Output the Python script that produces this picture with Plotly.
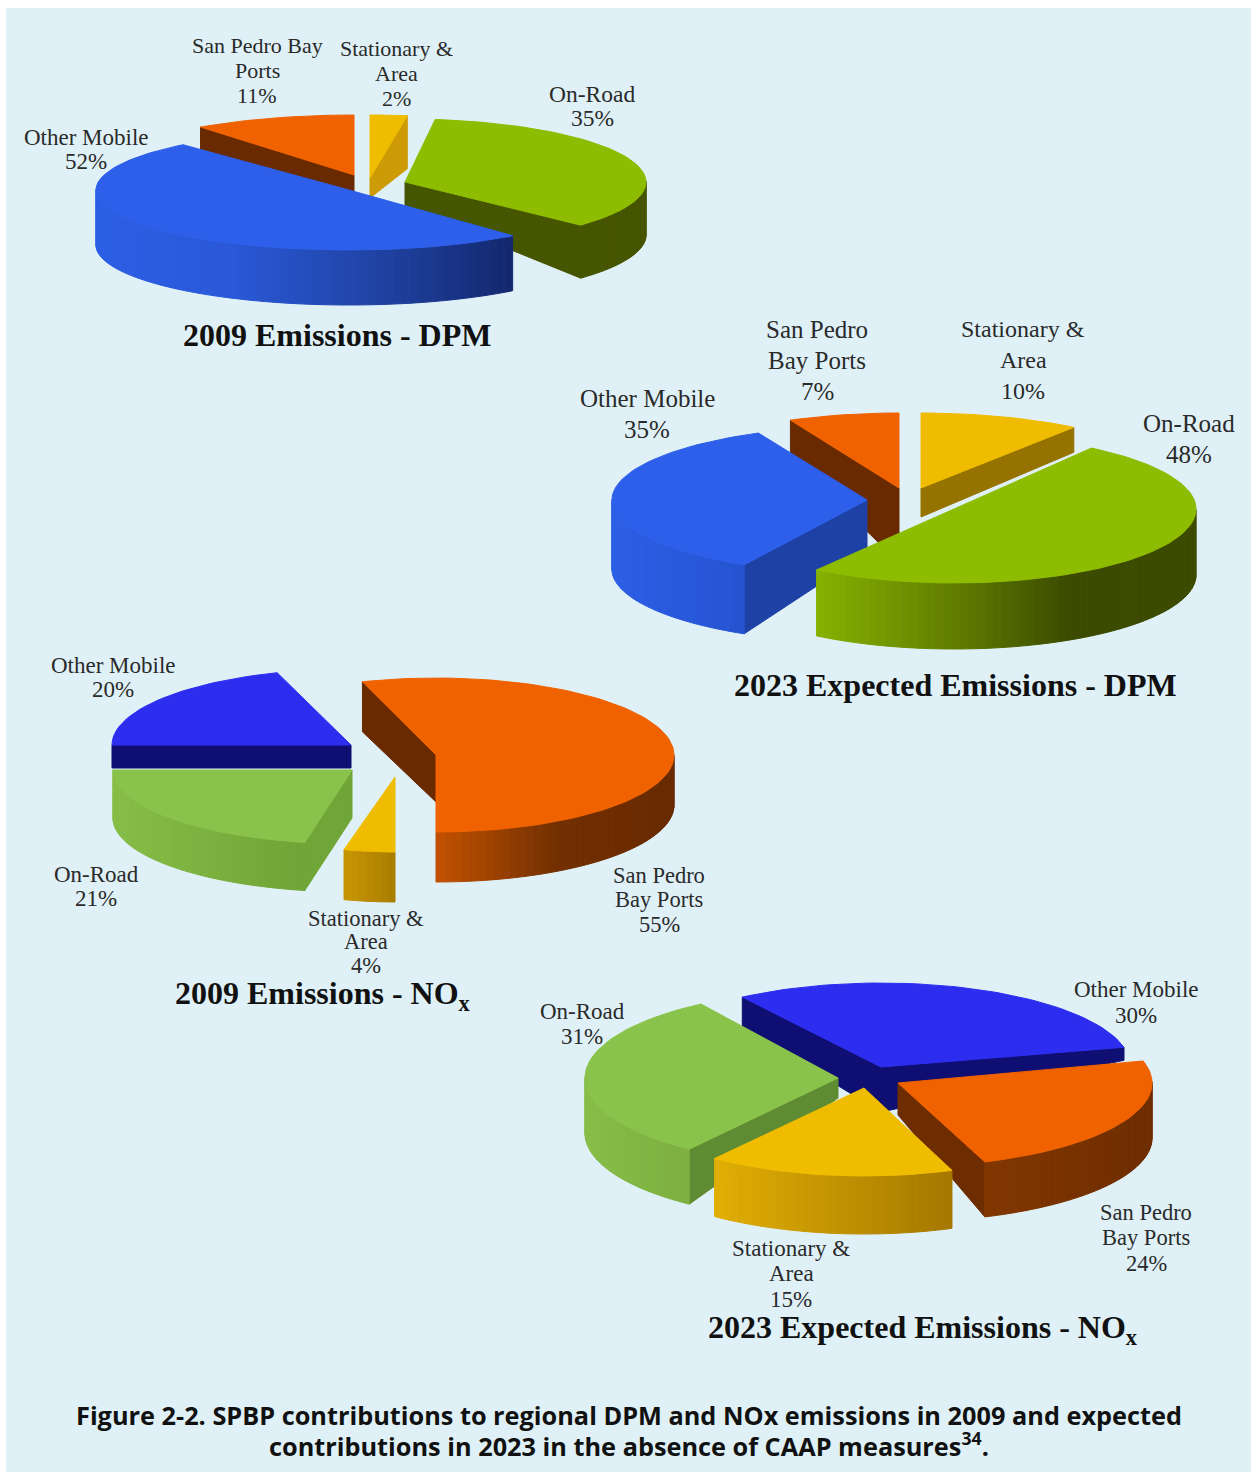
import math
import plotly.graph_objects as go

# ---------- data ----------
CATEGORIES = ["Other Mobile", "San Pedro Bay Ports", "Stationary & Area", "On-Road"]
DPM_2009 = [52, 11, 2, 35]
DPM_2023 = [35, 7, 10, 48]
NOX_2009 = [20, 55, 4, 21]
NOX_2023 = [30, 24, 15, 31]
TITLES = ["2009 Emissions - DPM", "2023 Expected Emissions - DPM",
          "2009 Emissions - NO<sub>x</sub>", "2023 Expected Emissions - NO<sub>x</sub>"]
CAPTION = ["Figure 2-2. SPBP contributions to regional DPM and NOx emissions in 2009 and expected",
           "contributions in 2023 in the absence of CAAP measures<sup>34</sup>."]

# ---------- colours ----------
BG = "#dff1f7"
BLUE_D = dict(top=(45, 95, 235), cut=(30, 65, 165), wall=[(45, 95, 230), (42, 88, 215), (32, 68, 165), (20, 40, 110)])
BLUE_D2 = dict(top=(45, 95, 235), cut=(30, 65, 165), wall=[(45, 95, 230), (38, 85, 210)])
BLUE_N = dict(top=(45, 45, 240), cut=(15, 15, 115), wall=[(15, 15, 115), (15, 15, 115)])
ORANGE = dict(top=(240, 98, 0), cut=(105, 42, 0), wall=[(195, 82, 0), (115, 48, 2), (105, 42, 0)])
ORANGE_2 = dict(top=(240, 98, 0), cut=(110, 45, 0), wall=[(130, 55, 0), (110, 45, 0)])
YELLOW = dict(top=(240, 188, 0), cut=(205, 155, 5), wall=[(225, 175, 5), (165, 120, 0)])
YELLOW_2 = dict(top=(240, 188, 0), cut=(150, 115, 0), wall=[(225, 175, 5), (165, 120, 0)])
GREEN_D = dict(top=(142, 188, 0), cut=(70, 85, 0), wall=[(70, 85, 0), (70, 85, 0)])
GREEN_D2 = dict(top=(142, 188, 0), cut=(70, 85, 0), wall=[(135, 178, 0), (100, 130, 0), (60, 75, 0), (60, 75, 0)])
GREEN_N = dict(top=(138, 195, 75), cut=(112, 165, 55), wall=[(135, 190, 72), (112, 165, 55)])
GREEN_N2 = dict(top=(138, 195, 75), cut=(95, 140, 50), wall=[(135, 190, 72), (125, 175, 65)])

# ---------- layout of each pie: slices clockwise from `start`, painted in `paint` order ----------
# c centre, r radii, d = (rim depth, centre depth[, rim depth at far edge]), adj = perspective nudge of edges in degrees
PIES = [
    dict(values=DPM_2009, start=90, clockwise=[2, 3, 0, 1], paint=[1, 2, 3, 0],
         slices={0: dict(c=(349, 190), r=(253, 60), d=(55, 20), adj=(-6.5, 1.4), **BLUE_D),
                 1: dict(c=(354, 175), r=(255, 60), d=(22, 20), adj=(-2.6, 0), **ORANGE),
                 2: dict(c=(370, 178), r=(255, 63), d=(53, 20), adj=(0, -1.2), **YELLOW),
                 3: dict(c=(405, 182), r=(241, 63), d=(53, 25), **GREEN_D)}),
    dict(values=DPM_2023, start=90, clockwise=[2, 3, 0, 1], paint=[2, 1, 0, 3],
         slices={0: dict(c=(867, 500), r=(255, 74), d=(69, 53), **BLUE_D2),
                 1: dict(c=(899, 488), r=(255, 75), d=(35, 75), **ORANGE),
                 2: dict(c=(921, 488), r=(260, 75), d=(25, 29), **YELLOW_2),
                 3: dict(c=(954, 509), r=(242, 74), d=(66, 50), adj=(1.4, -5.8), **GREEN_D2)}),
    dict(values=NOX_2009, start=108, clockwise=[1, 2, 3, 0], paint=[0, 3, 2, 1],
         slices={0: dict(c=(351, 745), r=(239, 76), d=(23, 23), **BLUE_N),
                 1: dict(c=(436, 755), r=(238, 77), d=(50, 47), **ORANGE),
                 2: dict(c=(395, 777), r=(205, 75), d=(50, 40), wall=[(200, 150, 5), (170, 125, 0)],
                         top=YELLOW["top"], cut=YELLOW["cut"]),
                 3: dict(c=(352, 770), r=(239, 74), d=(48, 48), adj=(3, 0), **GREEN_N)}),
    dict(values=NOX_2023, start=125, clockwise=[0, 1, 2, 3], paint=[0, 1, 3, 2],
         slices={0: dict(c=(881, 1067), r=(250, 84), d=(30, 45, 13), adj=(-1.3, -3.4), **BLUE_N),
                 1: dict(c=(898, 1083), r=(254, 84), d=(55, 32), adj=(-1.8, -0.6), **ORANGE_2),
                 2: dict(c=(864, 1088), r=(250, 88), d=(58, 40), adj=(0, -3.3), **YELLOW),
                 3: dict(c=(838, 1078), r=(253, 88), d=(55, 20), adj=(-2.6, -2.2), **GREEN_N2)}),
]

# label: (pie, category, text lines, x, first-line y, line gap, font size)
LABELS = [
    (0, 0, ["Other Mobile"], 86, 137, 24, 23), (0, 1, ["San Pedro Bay", "Ports"], 257, 45, 25, 22),
    (0, 2, ["Stationary &", "Area"], 396, 48, 25, 22), (0, 3, ["On-Road"], 592, 94, 24, 23.5),
    (1, 0, ["Other Mobile"], 647, 398, 31, 25), (1, 1, ["San Pedro", "Bay Ports"], 817, 329, 31, 25),
    (1, 2, ["Stationary &", "Area"], 1023, 329, 31, 24), (1, 3, ["On-Road"], 1189, 423, 31, 25),
    (2, 0, ["Other Mobile"], 113, 665, 24, 23), (2, 1, ["San Pedro", "Bay Ports"], 659, 875, 24.5, 22.5),
    (2, 2, ["Stationary &", "Area"], 366, 918, 23.5, 22.5), (2, 3, ["On-Road"], 96, 874, 24, 23),
    (3, 0, ["Other Mobile"], 1136, 989, 26, 23), (3, 1, ["San Pedro", "Bay Ports"], 1146, 1212, 25.5, 22.5),
    (3, 2, ["Stationary &", "Area"], 791, 1248, 25.5, 23), (3, 3, ["On-Road"], 582, 1011, 25, 23),
]
TITLE_POS = [(337, 335), (955, 685), (323, 995), (923, 1329)]
CAPTION_POS = [(629, 1415), (629, 1444)]


def mix(stops, t):
    t = max(0.0, min(1.0, t)) * (len(stops) - 1)
    i = min(int(t), len(stops) - 2)
    f = t - i
    return "rgb(%d,%d,%d)" % tuple(stops[i][k] + (stops[i + 1][k] - stops[i][k]) * f for k in range(3))


fig = go.Figure()


def poly(xs, ys, color, name=None):
    fig.add_trace(go.Scatter(x=xs + xs[:1], y=ys + ys[:1], mode="lines", fill="toself", fillcolor=color,
                             line=dict(color=color, width=1), showlegend=False,
                             hoverinfo="text" if name else "skip", text=name))


def rim(s, a):
    return s["c"][0] + s["r"][0] * math.cos(a), s["c"][1] - s["r"][1] * math.sin(a)


def draw_slice(s, a0, a1, name):
    cx, cy = s["c"]
    dr, dc = s["d"][:2]
    dr1 = s["d"][2] if len(s["d"]) > 2 else dr
    col = "rgb(%d,%d,%d)" % s["cut"]
    # cut faces that look towards the viewer
    for a, show, depth in ((a0, math.cos(a0) < -1e-6, dr), (a1, math.cos(a1) > 1e-6, dr1)):
        if show:
            x, y = rim(s, a)
            poly([cx, x, x, cx], [cy, y, y + depth, cy + dc], col)
    # outer wall: narrow strips on the front half, shaded left to right
    n = max(2, int(abs(a0 - a1) / math.radians(2)))
    angs = [a0 + (a1 - a0) * i / n for i in range(n + 1)]
    front = [a for a in angs if math.sin(a) < 0.02]
    if len(front) >= 2:
        xs = [rim(s, a)[0] for a in front]
        lo, hi = min(xs), max(xs)
        for p, q in zip(front[:-1], front[1:]):
            if math.sin(p) > 0.02 or math.sin(q) > 0.02:
                continue
            xp, yp = rim(s, p)
            xq, yq = rim(s, q)
            poly([xp, xq, xq, xp], [yp, yq, yq + dr, yp + dr],
                 mix(s["wall"], ((xp + xq) / 2 - lo) / max(hi - lo, 1)))
    # top face
    pts = [rim(s, a) for a in angs]
    poly([cx] + [p[0] for p in pts], [cy] + [p[1] for p in pts], "rgb(%d,%d,%d)" % s["top"], name)


for pie in PIES:
    spans = {}
    ang = pie["start"]
    for k in pie["clockwise"]:
        sweep = pie["values"][k] * 3.6
        da0, da1 = pie["slices"][k].get("adj", (0, 0))
        spans[k] = (math.radians(ang + da0), math.radians(ang - sweep + da1))
        ang -= sweep
    for k in pie["paint"]:
        draw_slice(pie["slices"][k], *spans[k], f"{CATEGORIES[k]}: {pie['values'][k]}%")

ann = []
for p, k, lines, x, y, gap, size in LABELS:
    for i, line in enumerate(lines + [f"{PIES[p]['values'][k]}%"]):
        ann.append(dict(x=x, y=y + i * gap, text=line, showarrow=False,
                        font=dict(family="Liberation Serif", size=size, color="#2a2a2a")))
for t, (x, y) in zip(TITLES, TITLE_POS):
    ann.append(dict(x=x, y=y, text="<b>" + t + "</b>", showarrow=False,
                    font=dict(family="Liberation Serif", size=32, color="#111")))
for t, (x, y) in zip(CAPTION, CAPTION_POS):
    ann.append(dict(x=x, y=y, text="<b>" + t + "</b>", showarrow=False,
                    font=dict(family="Open Sans", size=25.3, color="#111")))

fig.update_layout(
    width=1251, height=1473, autosize=False, showlegend=False,
    paper_bgcolor="white", plot_bgcolor=BG,
    margin=dict(l=6, r=0, t=8, b=1),
    xaxis=dict(range=[6, 1251], visible=False, fixedrange=True),
    yaxis=dict(range=[1472, 8], visible=False, fixedrange=True),
    annotations=ann,
)
fig.write_html("out.html", config={"displayModeBar": False},
               post_script="document.body.style.margin='0';")
